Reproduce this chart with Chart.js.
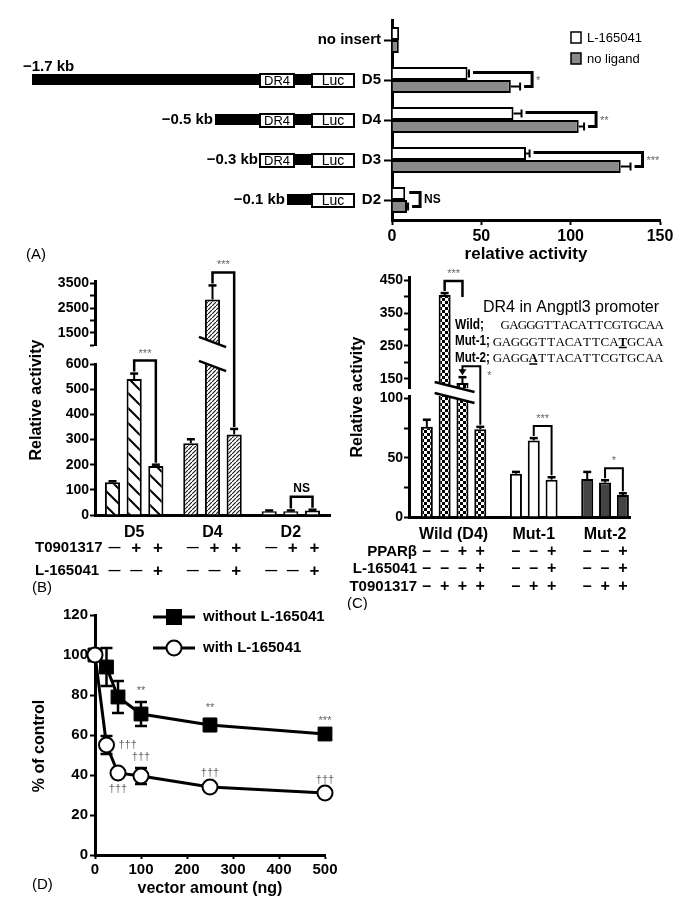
<!DOCTYPE html>
<html>
<head>
<meta charset="utf-8">
<script src="https://cdn.jsdelivr.net/npm/chart.js@4.4.1/dist/chart.umd.min.js"></script>
<style>
  body { margin: 0; background: #fff; }
  #page { position: relative; width: 692px; height: 907px; overflow: hidden; }
  canvas { position: absolute; }
</style>
</head>
<body>
<div id="page">
  <canvas id="cA" width="692" height="270" style="left:0;top:0"></canvas>
  <canvas id="cB" width="350" height="350" style="left:0;top:250px"></canvas>
  <canvas id="cC" width="352" height="360" style="left:340px;top:250px"></canvas>
  <canvas id="cD" width="350" height="307" style="left:0;top:600px"></canvas>
</div>
<script>
// ---- panel A : promoter deletions ----
const aCategories = ['no insert', 'D5', 'D4', 'D3', 'D2'];
const aWithL = [4, 42.3, 68, 75, 7.4];
const aWithLErr = [0, 0.8, 4.5, 2, 0];
const aNoLigand = [3.8, 66.5, 104.5, 128, 8.4];
const aNoLigandErr = [0, 5.2, 3, 5.5, 0.6];
const aPromoterKb = ['', '\u22121.7 kb', '\u22120.5 kb', '\u22120.3 kb', '\u22120.1 kb'];
const aHasDR4 = [false, true, true, true, false];
const aSig = ['', '*', '**', '***', 'NS'];

// ---- panel B : T0901317 / L-165041 ----
const bGroups = ['D5', 'D4', 'D2'];
const bCtrl = [130, 285, 15];
const bCtrlErr = [4, 16, 3];
const bT09 = [540, 2850, 15];
const bT09Err = [22, 570, 3];
const bT09L = [195, 320, 18];
const bT09LErr = [5, 22, 3];
const bT09Signs = ['\u2014', '+', '+'];
const bLSigns = ['\u2014', '\u2014', '+'];
const bSig = ['***', '***', 'NS'];
const bHighTicks = [1000, 1500, 2000, 2500, 3000, 3500];
const bHighLabels = [1500, 2500, 3500];

// ---- panel C : DR4 mutants ----
const cGroups = ['Wild (D4)', 'Mut-1', 'Mut-2'];
const cWild = [76, 405, 137, 74];
const cWildErr = [6, 6, 18, 2];
const cMut1 = [36.5, 64.5, 31.5];
const cMut1Err = [1.5, 2, 2];
const cMut2 = [32, 29, 18.5];
const cMut2Err = [6, 2, 1.5];
const cPPAR = [['\u2013', '\u2013', '+', '+'], ['\u2013', '\u2013', '+'], ['\u2013', '\u2013', '+']];
const cL165 = [['\u2013', '\u2013', '\u2013', '+'], ['\u2013', '\u2013', '+'], ['\u2013', '\u2013', '+']];
const cT09 = [['\u2013', '+', '+', '+'], ['\u2013', '+', '+'], ['\u2013', '+', '+']];
const cHighTicks = [150, 200, 250, 300, 350, 400, 450];
const cHighLabels = [150, 250, 350, 450];
const cLowTicks = [0, 25, 50, 75, 100];
const cLowLabels = [0, 50, 100];
const cSequences = [
  ['Wild;', 'GAGGGTTACATTCGTGCAA', -1],
  ['Mut-1;', 'GAGGGTTACATTCATGCAA', 14],
  ['Mut-2;', 'GAGGATTACATTCGTGCAA', 4]
];

// ---- panel D : dose response ----
const dDose = [0, 25, 50, 100, 250, 500];
const dWithout = [100, 94, 79, 70.5, 65, 60.5];
const dWithoutErr = [0, 9.5, 8, 6, 3, 1];
const dWith = [100, 55, 41, 39.5, 34, 31];
const dWithErr = [0, 4.5, 1.5, 4, 1.5, 1];
const dWithoutSig = ['', '', '', '**', '**', '***'];
const dWithSig = ['', '\u2020\u2020\u2020', '\u2020\u2020\u2020', '\u2020\u2020\u2020', '\u2020\u2020\u2020', '\u2020\u2020\u2020'];
const dWithSigSide = ['', 'right', 'below', 'above', 'above', 'above'];

const FONT = "'Liberation Sans', Arial, Helvetica, sans-serif";
Chart.defaults.font.family = FONT;
Chart.defaults.color = '#000';
Chart.defaults.animation = false;
Chart.defaults.responsive = false;
Chart.defaults.plugins.legend.display = false;
Chart.defaults.plugins.tooltip.enabled = false;

const GRAY_A = '#8a8a8a';
const STAR = '#666';

function txt(ctx, s, x, y, font, align, color, maxW) {
  ctx.save();
  ctx.font = font + ' ' + FONT;
  ctx.textAlign = align || 'center';
  ctx.textBaseline = 'middle';
  ctx.fillStyle = color || '#000';
  if (maxW) ctx.fillText(s, x, y, maxW);
  else ctx.fillText(s, x, y);
  ctx.restore();
}
function vtxt(ctx, s, x, y, font) {
  ctx.save();
  ctx.translate(x, y);
  ctx.rotate(-Math.PI / 2);
  txt(ctx, s, 0, 0, font);
  ctx.restore();
}
function path(ctx, pts, width) {
  ctx.save();
  ctx.strokeStyle = '#000';
  ctx.lineWidth = width || 2;
  ctx.beginPath();
  pts.forEach((p, i) => i ? ctx.lineTo(p[0], p[1]) : ctx.moveTo(p[0], p[1]));
  ctx.stroke();
  ctx.restore();
}
function box(ctx, x, y, w, h, fill, lw) {
  ctx.save();
  ctx.fillStyle = fill;
  ctx.fillRect(x, y, w, h);
  ctx.strokeStyle = '#000';
  ctx.lineWidth = lw || 2;
  ctx.strokeRect(x, y, w, h);
  ctx.restore();
}
function errUp(ctx, x, y0, y1, cap) {
  path(ctx, [[x, y0], [x, y1]], 2);
  path(ctx, [[x - cap, y1], [x + cap, y1]], 2.5);
}
// white gap with two slanted strokes across a broken bar
function breakMark(ctx, x0, x1, yTop, yBot, slope) {
  const cx = (x0 + x1) / 2;
  const yu = x => yTop + (x - cx) * slope;
  const yl = x => yBot + (x - cx) * slope;
  ctx.save();
  ctx.fillStyle = '#fff';
  ctx.beginPath();
  ctx.moveTo(x0 + 3, yu(x0 + 3)); ctx.lineTo(x1 - 3, yu(x1 - 3));
  ctx.lineTo(x1 - 3, yl(x1 - 3)); ctx.lineTo(x0 + 3, yl(x0 + 3));
  ctx.closePath(); ctx.fill();
  ctx.restore();
  path(ctx, [[x0, yu(x0)], [x1, yu(x1)]], 2.5);
  path(ctx, [[x0, yl(x0)], [x1, yl(x1)]], 2.5);
}
function pattern(kind) {
  const c = document.createElement('canvas');
  const g = c.getContext('2d');
  if (kind === 'wide') {
    c.width = 15; c.height = 15;
    g.fillStyle = '#fff'; g.fillRect(0, 0, 15, 15);
    g.strokeStyle = '#000'; g.lineWidth = 2;
    g.beginPath();
    g.moveTo(-2, -2); g.lineTo(17, 17);
    g.moveTo(-2, 13); g.lineTo(2, 17);
    g.moveTo(13, -2); g.lineTo(17, 2);
    g.stroke();
  } else if (kind === 'dense') {
    c.width = 4; c.height = 4;
    g.fillStyle = '#fff'; g.fillRect(0, 0, 4, 4);
    g.strokeStyle = '#222'; g.lineWidth = 1.2;
    g.beginPath();
    g.moveTo(-1, 5); g.lineTo(5, -1);
    g.stroke();
  } else {
    c.width = 6; c.height = 6;
    g.fillStyle = '#fff'; g.fillRect(0, 0, 6, 6);
    g.fillStyle = '#000';
    g.fillRect(0, 0, 3, 3); g.fillRect(3, 3, 3, 3);
  }
  return g.createPattern(c, 'repeat');
}

const tickGrid = { drawOnChartArea: false, tickLength: 5, tickWidth: 2, tickColor: '#000' };
const axisBorder = { width: 3, color: '#000' };

// ================= A =================
const aDecor = {
  id: 'aDecor',
  afterDraw(chart) {
    const { ctx, scales: { x, y } } = chart;
    const sets = [[aWithL, aWithLErr], [aNoLigand, aNoLigandErr]];
    sets.forEach(([vals, errs], di) => {
      chart.getDatasetMeta(di).data.forEach((bar, i) => {
        if (!errs[i]) return;
        const x1 = x.getPixelForValue(vals[i] + errs[i]);
        path(ctx, [[bar.x, bar.y], [x1, bar.y]], 2);
        path(ctx, [[x1, bar.y - 4], [x1, bar.y + 4]], 2);
      });
    });
    aSig.forEach((label, i) => {
      if (!label) return;
      const w = chart.getDatasetMeta(0).data[i];
      const g = chart.getDatasetMeta(1).data[i];
      const wEnd = x.getPixelForValue(aWithL[i] + aWithLErr[i]);
      const gEnd = x.getPixelForValue(aNoLigand[i] + aNoLigandErr[i]);
      const right = Math.max(wEnd, gEnd) + 12;
      path(ctx, [[wEnd + 4, w.y - 1], [right, w.y - 1], [right, g.y], [gEnd + 4, g.y]], 3);
      if (label === 'NS') txt(ctx, label, right + 4, y.getPixelForValue(i), 'bold 12px', 'left');
      else txt(ctx, label, right + 4, y.getPixelForValue(i) + 1, '11px', 'left', STAR);
    });
    // promoter constructs
    const axisX = x.left;
    const luc = [axisX - 80, axisX - 38];
    const dr4 = [axisX - 132, axisX - 98];
    const promoterLeft = [0, 32, 215, dr4[0], 287];
    aPromoterKb.forEach((kb, i) => {
      if (!kb) return;
      const cy = y.getPixelForValue(i);
      ctx.fillStyle = '#000';
      ctx.fillRect(promoterLeft[i], cy - 6, luc[0] - promoterLeft[i], 11);
      if (aHasDR4[i]) {
        box(ctx, dr4[0], cy - 6, dr4[1] - dr4[0], 13, '#fff');
        txt(ctx, 'DR4', (dr4[0] + dr4[1]) / 2, cy + 1, '13px');
      }
      box(ctx, luc[0], cy - 6, luc[1] - luc[0], 13, '#fff');
      txt(ctx, 'Luc', (luc[0] + luc[1]) / 2, cy + 1, '14px');
      if (i === 1) txt(ctx, kb, 23, cy - 13, 'bold 15px', 'left');
      else txt(ctx, kb, promoterLeft[i] - 2, cy, 'bold 15px', 'right');
    });
    // legend
    box(ctx, 571, 32, 10, 11, '#fff', 1.5);
    txt(ctx, 'L-165041', 587, 38, '13px', 'left');
    box(ctx, 571, 53, 10, 11, GRAY_A, 1.5);
    txt(ctx, 'no ligand', 587, 59, '13px', 'left');
    txt(ctx, '(A)', 26, 255, '15px', 'left');
  }
};

new Chart(document.getElementById('cA'), {
  type: 'bar',
  data: {
    labels: aCategories,
    datasets: [
      { label: 'L-165041', data: aWithL, backgroundColor: '#fff', borderColor: '#000', borderWidth: 2 },
      { label: 'no ligand', data: aNoLigand, backgroundColor: GRAY_A, borderColor: '#000', borderWidth: 2 }
    ]
  },
  options: {
    indexAxis: 'y',
    categoryPercentage: 0.65,
    barPercentage: 1,
    layout: { padding: { top: 20, right: 32, left: 0, bottom: 0 } },
    scales: {
      x: {
        min: 0, max: 150,
        ticks: { stepSize: 50, font: { size: 16, weight: 'bold' }, padding: 2 },
        grid: tickGrid, border: axisBorder,
        title: { display: true, text: 'relative activity', font: { size: 17, weight: 'bold' }, padding: { top: 0, bottom: 5 } },
        afterFit: s => { s.height = 50; }
      },
      y: {
        ticks: { autoSkip: false, font: { size: 15, weight: 'bold' }, padding: 3 },
        grid: Object.assign({}, tickGrid, { offset: false, tickLength: 8 }),
        border: axisBorder,
        afterFit: s => { s.width = 392; }
      }
    }
  },
  plugins: [aDecor]
});

// ================= B =================
const bFills = [pattern('wide'), pattern('dense'), '#fff'];
const bConds = [bCtrl, bT09, bT09L];
const bErrs = [bCtrlErr, bT09Err, bT09LErr];
const bDatasets = [];
['yLow', 'yHigh'].forEach(axis => {
  bConds.forEach((vals, k) => {
    bDatasets.push({ data: vals, yAxisID: axis, stack: 'c' + k, backgroundColor: bFills,
      borderColor: '#000', borderWidth: 2, clip: 0 });
  });
});

const bDecor = {
  id: 'bDecor',
  afterDatasetsDraw(chart) {
    const { ctx, scales } = chart;
    const low = scales.yLow, high = scales.yHigh;
    const py = v => v > low.max ? high.getPixelForValue(v) : low.getPixelForValue(v);
    // broken bars
    bConds.forEach((vals, k) => {
      chart.getDatasetMeta(k).data.forEach((bar, g) => {
        if (vals[g] > low.max) {
          breakMark(ctx, bar.x - bar.width / 2 - 6, bar.x + bar.width / 2 + 6, high.bottom - 3, low.top + 2, 0.38);
        }
      });
    });
    // error bars
    bConds.forEach((vals, k) => {
      chart.getDatasetMeta(k).data.forEach((bar, g) => {
        errUp(ctx, bar.x, py(vals[g]), py(vals[g] + bErrs[k][g]), 4);
      });
    });
    // brackets between T0901317 and T0901317 + L-165041
    bSig.forEach((label, g) => {
      const a = chart.getDatasetMeta(1).data[g], b = chart.getDatasetMeta(2).data[g];
      const ya = py(bT09[g] + bT09Err[g]) - 2, yb = py(bT09L[g] + bT09LErr[g]) - 2;
      const top = Math.min(ya, yb) - 11;
      path(ctx, [[a.x, ya], [a.x, top], [b.x, top], [b.x, yb]], 2.5);
      if (label === 'NS') txt(ctx, label, (a.x + b.x) / 2, top - 8, 'bold 12px');
      else txt(ctx, label, (a.x + b.x) / 2, top - 7, '11px', 'center', STAR);
    });
    // axis title and condition rows
    vtxt(ctx, 'Relative activity', 37, (chart.chartArea.top + chart.chartArea.bottom) / 2 + 2, 'bold 16px');
    const rowT = 298, rowL = 321;
    txt(ctx, 'T0901317', 35, rowT, 'bold 15px', 'left');
    txt(ctx, 'L-165041', 35, rowL, 'bold 15px', 'left');
    [bT09Signs, bLSigns].forEach((signs, r) => {
      signs.forEach((s, k) => {
        chart.getDatasetMeta(k).data.forEach(bar => {
          txt(ctx, s, bar.x + 2, r ? rowL : rowT, s === '+' ? 'bold 17px' : 'bold 12px');
        });
      });
    });
    txt(ctx, '(B)', 32, 338, '15px', 'left');
  }
};

new Chart(document.getElementById('cB'), {
  type: 'bar',
  data: { labels: bGroups, datasets: bDatasets },
  options: {
    categoryPercentage: 0.83,
    barPercentage: 0.7,
    layout: { padding: { top: 31, right: 20, left: 0, bottom: 0 } },
    scales: {
      x: {
        grid: { display: false }, border: axisBorder,
        ticks: { font: { size: 16, weight: 'bold' }, padding: 0 },
        afterFit: s => { s.height = 85; }
      },
      yLow: {
        type: 'linear', position: 'left', stack: 'b', stackWeight: 151, stacked: false,
        min: 0, max: 600,
        ticks: { autoSkip: false, stepSize: 100, font: { size: 14, weight: 'bold' }, padding: 1 },
        grid: tickGrid, border: axisBorder,
        afterFit: s => { s.width = 95; }
      },
      yGap: {
        type: 'linear', position: 'left', stack: 'b', stackWeight: 19,
        grid: { display: false }, ticks: { display: false }, border: { display: false },
        afterFit: s => { s.width = 95; }
      },
      yHigh: {
        type: 'linear', position: 'left', stack: 'b', stackWeight: 64, stacked: false,
        min: 1000, max: 3600,
        afterBuildTicks: s => { s.ticks = bHighTicks.map(v => ({ value: v })); },
        ticks: { autoSkip: false, font: { size: 14, weight: 'bold' }, padding: 1,
          callback: v => bHighLabels.includes(v) ? String(v) : '' },
        grid: tickGrid, border: axisBorder,
        afterFit: s => { s.width = 95; }
      }
    }
  },
  plugins: [bDecor]
});

// ================= C =================
const cSets = [cWild, cMut1, cMut2];
const cErrSets = [cWildErr, cMut1Err, cMut2Err];
const cFillKinds = [pattern('check'), '#fff', '#444'];
const cPoints = [], cFills = [], cErrs = [], cLabelSlots = [];
let slot = 0;
cSets.forEach((vals, g) => {
  cLabelSlots.push(slot + (vals.length - 1) / 2);
  vals.forEach((v, k) => {
    cPoints.push({ x: slot + k, y: v });
    cFills.push(cFillKinds[g]);
    cErrs.push(cErrSets[g][k]);
  });
  slot += vals.length + 1;
});
const groupStart = g => cSets.slice(0, g).reduce((n, s) => n + s.length, 0);

const cDecor = {
  id: 'cDecor',
  afterDatasetsDraw(chart) {
    const { ctx, scales } = chart;
    const low = scales.yLow, high = scales.yHigh;
    const py = v => v > low.max ? high.getPixelForValue(v) : low.getPixelForValue(v);
    const bars = chart.getDatasetMeta(0).data;
    // break across the tall wild-type bars
    const tall = bars.filter((b, i) => cPoints[i].y > low.max);
    if (tall.length) {
      const x0 = tall[0].x - tall[0].width / 2 - 4;
      const x1 = tall[tall.length - 1].x + tall[tall.length - 1].width / 2 + 6;
      breakMark(ctx, x0, x1, high.bottom - 1, low.top + 2, 0.25);
    }
    bars.forEach((bar, i) => {
      errUp(ctx, bar.x, py(cPoints[i].y), py(cPoints[i].y + cErrs[i]), 4);
    });
    const top = i => py(cPoints[i].y + cErrs[i]) - 2;
    // wild: T0901317 vs T0901317 + PPARb
    let a = bars[1], b = bars[2], t = top(1) - 10;
    path(ctx, [[a.x, top(1)], [a.x, t], [b.x, t], [b.x, t + 16]], 2.5);
    txt(ctx, '***', (a.x + b.x) / 2, t - 7, '11px', 'center', STAR);
    // wild: PPARb vs PPARb + L-165041 (arrow)
    a = bars[2]; b = bars[3]; t = top(2) - 9;
    path(ctx, [[a.x, top(2) - 5], [a.x, t], [b.x, t], [b.x, top(3)]], 2);
    ctx.save(); ctx.fillStyle = '#000'; ctx.beginPath();
    ctx.moveTo(a.x - 4, top(2) - 6); ctx.lineTo(a.x + 4, top(2) - 6); ctx.lineTo(a.x, top(2)); ctx.closePath(); ctx.fill(); ctx.restore();
    txt(ctx, '*', b.x + 7, t + 10, '11px', 'left', STAR);
    // mutants
    [[1, '***'], [2, '*']].forEach(([g, label]) => {
      const i = groupStart(g) + 1;
      const p = bars[i], q = bars[i + 1];
      const tt = Math.min(top(i), top(i + 1)) - 10;
      path(ctx, [[p.x, top(i)], [p.x, tt], [q.x, tt], [q.x, top(i + 1)]], 2);
      txt(ctx, label, (p.x + q.x) / 2, tt - 7, '11px', 'center', STAR);
    });
    // promoter sequence box
    txt(ctx, 'DR4 in Angptl3 promoter', 143, 58, '16px', 'left');
    cSequences.forEach(([name, seq, mut], r) => {
      const yy = 75 + r * 16.5;
      txt(ctx, name, 115, yy, 'bold 14px', 'left', '#000', r === 0 ? 29 : 35);
      const x0 = r === 0 ? 161 : 153;
      const step = r === 0 ? 8.55 : 8.95;
      for (let k = 0; k < seq.length; k++) {
        ctx.save();
        ctx.font = (k === mut ? 'bold ' : '') + "13px 'Liberation Serif', 'Times New Roman', serif";
        ctx.textAlign = 'center'; ctx.textBaseline = 'middle'; ctx.fillStyle = '#000';
        const xc = x0 + step * k + step / 2;
        ctx.fillText(seq[k], xc, yy + 1);
        ctx.restore();
        if (k === mut) path(ctx, [[xc - 4, yy + 6], [xc + 4, yy + 6]], 1.5);
      }
    });
    // axis title, condition rows
    vtxt(ctx, 'Relative activity', 18, (chart.chartArea.top + chart.chartArea.bottom) / 2, 'bold 16px');
    const rows = [['PPAR\u03b2', cPPAR, 302], ['L-165041', cL165, 319], ['T0901317', cT09, 337]];
    rows.forEach(([name, signs, yy]) => {
      txt(ctx, name, 77, yy, 'bold 15px', 'right');
      signs.forEach((grp, g) => grp.forEach((s, k) => {
        txt(ctx, s, bars[groupStart(g) + k].x, yy, 'bold 16px');
      }));
    });
    txt(ctx, '(C)', 7, 354, '15px', 'left');
  }
};

new Chart(document.getElementById('cC'), {
  type: 'bar',
  data: {
    datasets: [
      { data: cPoints, yAxisID: 'yLow', grouped: false, backgroundColor: cFills, borderColor: '#000', borderWidth: 2, clip: 0 },
      { data: cPoints, yAxisID: 'yHigh', grouped: false, backgroundColor: cFills, borderColor: '#000', borderWidth: 2, clip: 0 }
    ]
  },
  options: {
    categoryPercentage: 0.9,
    barPercentage: 0.75,
    layout: { padding: { top: 27, right: 62, left: 0, bottom: 0 } },
    scales: {
      x: {
        type: 'linear', min: -1, max: 11.4, offset: false,
        afterBuildTicks: s => { s.ticks = cLabelSlots.map(v => ({ value: v })); },
        ticks: { autoSkip: false, maxRotation: 0, font: { size: 16, weight: 'bold' }, padding: 0,
          callback: (v, i) => cGroups[i] },
        grid: { display: false }, border: axisBorder,
        afterFit: s => { s.height = 93; }
      },
      yLow: {
        type: 'linear', position: 'left', stack: 'c', stackWeight: 121, stacked: false,
        min: 0, max: 102,
        afterBuildTicks: s => { s.ticks = cLowTicks.map(v => ({ value: v })); },
        ticks: { autoSkip: false, font: { size: 14, weight: 'bold' }, padding: 1,
          callback: v => cLowLabels.includes(v) ? String(v) : '' },
        grid: tickGrid, border: axisBorder,
        afterFit: s => { s.width = 69; }
      },
      yGap: {
        type: 'linear', position: 'left', stack: 'c', stackWeight: 8,
        grid: { display: false }, ticks: { display: false }, border: { display: false },
        afterFit: s => { s.width = 69; }
      },
      yHigh: {
        type: 'linear', position: 'left', stack: 'c', stackWeight: 111, stacked: false,
        min: 122, max: 460,
        afterBuildTicks: s => { s.ticks = cHighTicks.map(v => ({ value: v })); },
        ticks: { autoSkip: false, font: { size: 14, weight: 'bold' }, padding: 1,
          callback: v => cHighLabels.includes(v) ? String(v) : '' },
        grid: tickGrid, border: axisBorder,
        afterFit: s => { s.width = 69; }
      }
    }
  },
  plugins: [cDecor]
});

// ================= D =================
const dDecor = {
  id: 'dDecor',
  beforeDatasetsDraw(chart) {
    const { ctx, scales: { x, y } } = chart;
    [[dWithout, dWithoutErr], [dWith, dWithErr]].forEach(([vals, errs]) => {
      vals.forEach((v, i) => {
        if (!errs[i]) return;
        const px = x.getPixelForValue(dDose[i]);
        const y0 = y.getPixelForValue(v - errs[i]), y1 = y.getPixelForValue(v + errs[i]);
        path(ctx, [[px, y0], [px, y1]], 2.5);
        path(ctx, [[px - 6, y0], [px + 6, y0]], 2.5);
        path(ctx, [[px - 6, y1], [px + 6, y1]], 2.5);
      });
    });
  },
  afterDraw(chart) {
    const { ctx, scales: { x, y } } = chart;
    dWithoutSig.forEach((s, i) => {
      if (!s) return;
      txt(ctx, s, x.getPixelForValue(dDose[i]), y.getPixelForValue(dWithout[i] + dWithoutErr[i]) - 11, '11px', 'center', STAR);
    });
    dWithSig.forEach((s, i) => {
      if (!s) return;
      const px = x.getPixelForValue(dDose[i]);
      const side = dWithSigSide[i];
      if (side === 'right') txt(ctx, s, px + 12, y.getPixelForValue(dWith[i]), '11px', 'left', STAR);
      else if (side === 'below') txt(ctx, s, px, y.getPixelForValue(dWith[i]) + 16, '11px', 'center', STAR);
      else txt(ctx, s, px, y.getPixelForValue(dWith[i] + dWithErr[i]) - 11, '11px', 'center', STAR);
    });
    // legend
    const ds = chart.data.datasets;
    [[ds[1], 17], [ds[0], 48]].forEach(([d, yy]) => {
      path(ctx, [[153, yy], [195, yy]], 3);
      ctx.save();
      ctx.fillStyle = d.pointBackgroundColor; ctx.strokeStyle = '#000'; ctx.lineWidth = 2;
      ctx.beginPath();
      if (d.pointStyle === 'rect') ctx.rect(167, yy - 7, 14, 14);
      else ctx.arc(174, yy, 7.5, 0, Math.PI * 2);
      ctx.fill(); ctx.stroke();
      ctx.restore();
      txt(ctx, d.label, 203, yy, 'bold 15px', 'left');
    });
    vtxt(ctx, '% of control', 40, 146, 'bold 16px');
    txt(ctx, '(D)', 32, 285, '15px', 'left');
  }
};

new Chart(document.getElementById('cD'), {
  type: 'line',
  data: {
    datasets: [
      { label: 'with L-165041', data: dDose.map((d, i) => ({ x: d, y: dWith[i] })), order: 0,
        borderColor: '#000', borderWidth: 3, pointStyle: 'circle', pointRadius: 7.5,
        pointBackgroundColor: '#fff', pointBorderColor: '#000', pointBorderWidth: 2, clip: false },
      { label: 'without L-165041', data: dDose.map((d, i) => ({ x: d, y: dWithout[i] })), order: 1,
        borderColor: '#000', borderWidth: 3, pointStyle: 'rect', pointRadius: 9.8,
        pointBackgroundColor: '#000', pointBorderColor: '#000', pointBorderWidth: 1, clip: false }
    ]
  },
  options: {
    layout: { padding: { top: 15, right: 25, left: 0, bottom: 0 } },
    scales: {
      x: {
        type: 'linear', min: 0, max: 500,
        ticks: { stepSize: 100, font: { size: 15, weight: 'bold' }, padding: 2 },
        grid: Object.assign({}, tickGrid, { tickLength: 4 }), border: axisBorder,
        title: { display: true, text: 'vector amount (ng)', font: { size: 16, weight: 'bold' }, padding: { top: 0, bottom: 9 } },
        afterFit: s => { s.height = 52; }
      },
      y: {
        min: 0, max: 120,
        ticks: { autoSkip: false, stepSize: 20, font: { size: 15, weight: 'bold' }, padding: 2 },
        grid: tickGrid, border: axisBorder,
        afterFit: s => { s.width = 95; }
      }
    }
  },
  plugins: [dDecor]
});
</script>
</body>
</html>
